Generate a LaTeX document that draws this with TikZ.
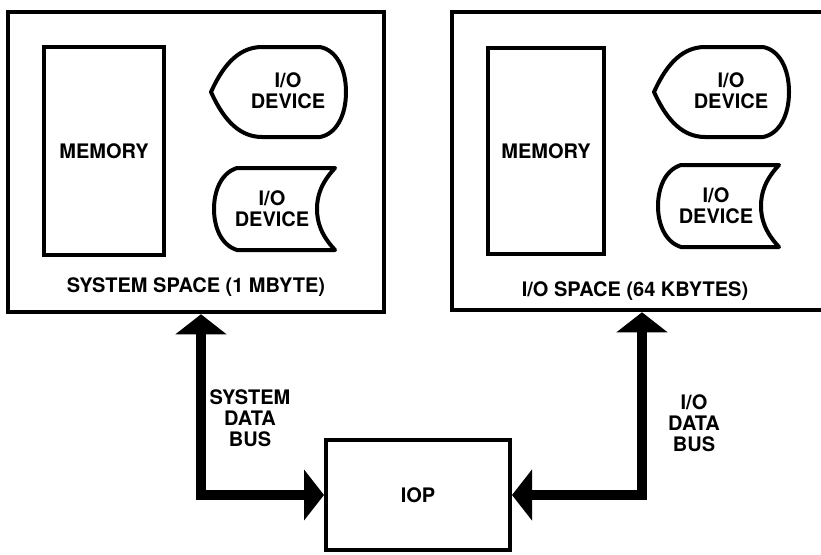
\documentclass[tikz,border=0pt]{standalone}
\usepackage{fontspec}
\setmainfont{TeX Gyre Heros}
\usepackage{tikz}
\usetikzlibrary{arrows.meta,positioning,calc}
\newcommand{\devfont}{\fontsize{20}{21}\selectfont\bfseries}
\tikzset{
  spacebox/.style={draw,line width=4.5pt,inner sep=0pt},
  membox/.style={draw,line width=4.5pt,inner sep=0pt,font=\devfont},
  iopbox/.style={draw,line width=4pt,inner sep=0pt,font=\devfont,
              minimum width=184pt,minimum height=110pt},
  devshape/.style={draw,line width=4pt,line join=round},
  txt/.style={font=\devfont,align=center,inner sep=0pt},
  bus/.style={line width=10pt,line join=miter,
              {Triangle[length=20pt,width=50pt]}-{Triangle[length=20pt,width=50pt]}},
  display/.pic={
    \draw[devshape] (-67,0) .. controls (-57,-22) and (-42,-45) .. (-16,-45)
      -- (42,-45) .. controls (58,-42) and (68,-24) .. (68,0)
      .. controls (68,24) and (58,42) .. (42,45) -- (-16,45)
      .. controls (-42,45) and (-57,22) .. (-67,0) -- cycle;
  },
  storeddata/.pic={
    \draw[devshape] (-38,-41) -- (60,-41) .. controls (46,-26) and (42,-13) .. (42,0)
      .. controls (42,13) and (46,26) .. (60,41) -- (-38,41)
      .. controls (-54,36) and (-61,18) .. (-61,0)
      .. controls (-61,-18) and (-54,-36) .. (-38,-41) -- cycle;
  }
}
\begin{document}
\begin{tikzpicture}[x=1pt,y=-1pt]
  \clip (0,0) rectangle (821,554);
  % system space
  \node[spacebox,minimum width=376pt,minimum height=300pt] (sysspace) at (196,162) {};
  \node[membox,minimum width=120pt,minimum height=208pt] (sysmem) at (104,151) {MEMORY};
  \pic at (278,92) {display};
  \node[txt] (sysdev1) at (288,91) {I/O\\DEVICE};
  \pic at (275,209) {storeddata};
  \node[txt] (sysdev2) at (272,209) {I/O\\DEVICE};
  \node[txt] (syslabel) at (196,287) {SYSTEM SPACE (1 MBYTE)};
  % i/o space
  \node[spacebox,minimum width=388pt,minimum height=298pt] (iospace) at (646,161) {};
  \node[membox,minimum width=116pt,minimum height=206pt] (iomem) at (546,151) {MEMORY};
  \pic at (721,92) {display};
  \node[txt] (iodev1) at (731,91) {I/O\\DEVICE};
  \pic at (719,206) {storeddata};
  \node[txt] (iodev2) at (716,206) {I/O\\DEVICE};
  \node[txt] (iolabel) at (635,291) {I/O SPACE (64 KBYTES)};
  % iop and buses
  \node[iopbox] (iop) at (418,495) {IOP};
  \coordinate (sysbus) at (201,495);
  \coordinate (iobus) at (642,495);
  \draw[bus] (sysspace.south -| sysbus) -- (sysbus) -- (iop.west);
  \draw[bus] (iospace.south -| iobus) -- (iobus) -- (iop.east);
  \node[txt] (sysbuslabel) at (250,418) {SYSTEM\\DATA\\BUS};
  \node[txt] (iobuslabel) at (694,423) {I/O\\DATA\\BUS};
\end{tikzpicture}
\end{document}
